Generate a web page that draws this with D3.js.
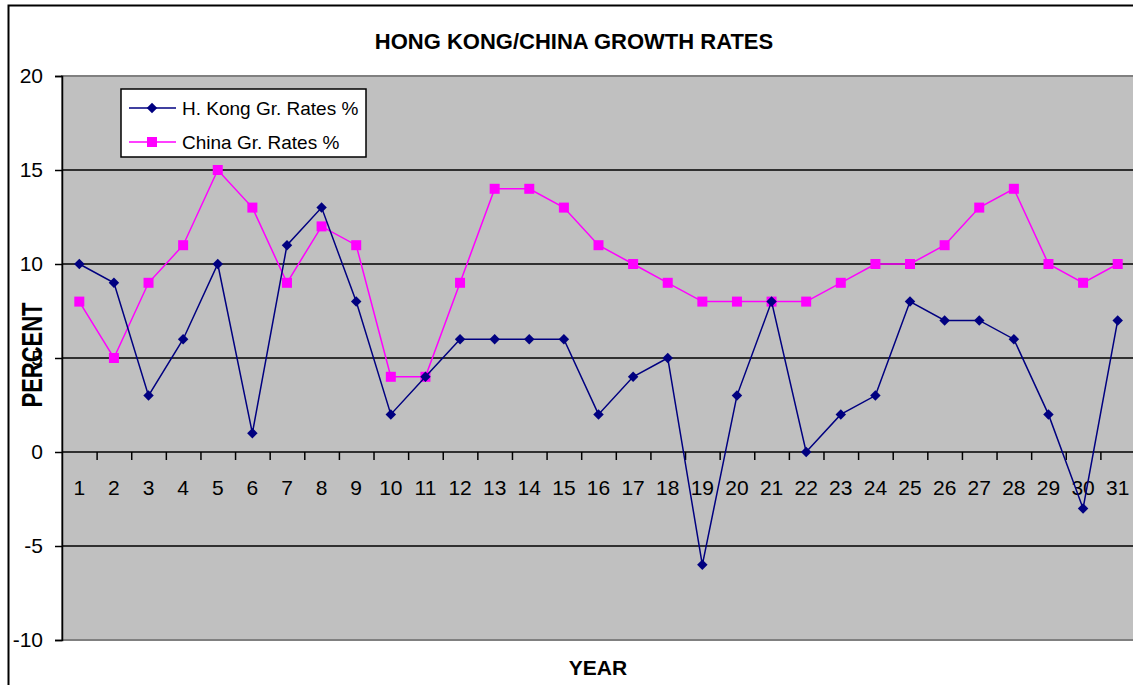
<!DOCTYPE html>
<html>
<head>
<meta charset="utf-8">
<script src="https://cdn.jsdelivr.net/npm/d3@7"></script>
<style>
  body { margin: 0; background: white; }
  svg { display: block; font-family: "Liberation Sans", Arial, sans-serif; }
</style>
</head>
<body>
<div id="chart"></div>
<script>
// data
var years = d3.range(1, 32).map(String);
var hkRates = [10, 9, 3, 6, 10, 1, 11, 13, 8, 2, 4, 6, 6, 6, 6, 2, 4, 5, -6, 3, 8, 0, 2, 3, 8, 7, 7, 6, 2, -3, 7];
var chinaRates = [8, 5, 9, 11, 15, 13, 9, 12, 11, 4, 4, 9, 14, 14, 13, 11, 10, 9, 8, 8, 8, 8, 9, 10, 10, 11, 13, 14, 10, 9, 10];
var yTicks = [-10, -5, 0, 5, 10, 15, 20];
var seriesNames = ["H. Kong Gr. Rates %", "China Gr. Rates %"];

var width = 1133, height = 685;
var plot = {left: 62, top: 76, right: 1135, bottom: 640};

var svg = d3.select("#chart").append("svg")
    .attr("width", width)
    .attr("height", height);

// outer chart frame
svg.append("rect")
    .attr("x", 8.5).attr("y", 5.5)
    .attr("width", 1140).attr("height", 700)
    .attr("fill", "white")
    .attr("stroke", "black")
    .attr("stroke-width", 2);

var x = d3.scaleBand().domain(years).range([plot.left, plot.right]);
var xEdge = d3.scaleLinear().domain([0, years.length]).range([plot.left, plot.right]);
var y = d3.scaleLinear().domain([-10, 20]).range([plot.bottom, plot.top]);

//plot background
svg.append("rect")
    .attr("x", plot.left).attr("y", plot.top)
    .attr("width", plot.right - plot.left).attr("height", plot.bottom - plot.top)
    .attr("fill", "#c0c0c0")
    .attr("stroke", "#808080")
    .attr("stroke-width", 2);

//gridlines
svg.append("g").selectAll("line")
    .data(yTicks.filter(d => d != 0 && d != -10 && d != 20))
    .join("line")
    .attr("x1", plot.left).attr("x2", plot.right)
    .attr("y1", d => y(d)).attr("y2", d => y(d))
    .attr("stroke", "black")
    .attr("stroke-width", 1.5);

//y axis
var yAxis = svg.append("g")
    .attr("transform", "translate(" + plot.left + ",0)")
    .call(d3.axisLeft(y).tickValues(yTicks).tickSize(7).tickPadding(12).tickFormat(d => String(d)))
    .attr("font-size", "21px")
    .attr("font-family", null);
yAxis.selectAll("line, path").attr("stroke", "black").attr("stroke-width", 1.5);
yAxis.selectAll("text").attr("fill", "black");

//x axis at zero: ticks between categories
var xTicks = svg.append("g")
    .attr("transform", "translate(0," + y(0) + ")")
    .call(d3.axisBottom(xEdge).tickValues(d3.range(1, years.length)).tickSize(8).tickFormat(""));
xTicks.selectAll("line, path").attr("stroke", "black").attr("stroke-width", 1.5);
xTicks.select("path").attr("d", "M" + plot.left + ",0H" + plot.right);

var xLabels = svg.append("g")
    .attr("transform", "translate(0," + y(0) + ")")
    .call(d3.axisBottom(x).tickSize(0).tickPadding(28))
    .attr("font-size", "21px")
    .attr("font-family", null);
xLabels.select("path").remove();
xLabels.selectAll("text").attr("fill", "black");

var line = d3.line()
    .x((d, i) => x(years[i]) + x.bandwidth() / 2)
    .y(d => y(d));

//China series
svg.append("path")
    .datum(chinaRates)
    .attr("fill", "none")
    .attr("stroke", "#ff00ff")
    .attr("stroke-width", 1.5)
    .attr("d", line);
svg.append("g").selectAll("rect")
    .data(chinaRates)
    .join("rect")
    .attr("x", (d, i) => x(years[i]) + x.bandwidth() / 2 - 5)
    .attr("y", d => y(d) - 5)
    .attr("width", 10).attr("height", 10)
    .attr("fill", "#ff00ff");

//HK series
var diamond = d3.symbol().type(d3.symbolDiamond2).size(70);
svg.append("path")
    .datum(hkRates)
    .attr("fill", "none")
    .attr("stroke", "#000080")
    .attr("stroke-width", 1.5)
    .attr("d", line);
svg.append("g").selectAll("path")
    .data(hkRates)
    .join("path")
    .attr("transform", (d, i) => "translate(" + (x(years[i]) + x.bandwidth() / 2) + "," + y(d) + ")")
    .attr("d", diamond)
    .attr("fill", "#000080");

//legend
var legend = svg.append("g").attr("transform", "translate(121,89)");
legend.append("rect")
    .attr("width", 245).attr("height", 68)
    .attr("fill", "white")
    .attr("stroke", "black")
    .attr("stroke-width", 1.5);
var colors = ["#000080", "#ff00ff"];
seriesNames.forEach(function(name, i) {
    var ly = 19 + i * 34;
    legend.append("line")
        .attr("x1", 8).attr("x2", 55)
        .attr("y1", ly).attr("y2", ly)
        .attr("stroke", colors[i])
        .attr("stroke-width", 1.5);
    if (i == 0) {
        legend.append("path")
            .attr("transform", "translate(31," + ly + ")")
            .attr("d", diamond)
            .attr("fill", colors[i]);
    } else {
        legend.append("rect")
            .attr("x", 26).attr("y", ly - 5)
            .attr("width", 10).attr("height", 10)
            .attr("fill", colors[i]);
    }
    legend.append("text")
        .attr("x", 61).attr("y", ly + 7)
        .attr("font-size", "19px")
        .text(name);
});

//titles
svg.append("text")
    .attr("x", 574).attr("y", 49)
    .attr("text-anchor", "middle")
    .attr("font-size", "22px")
    .attr("font-weight", "bold")
    .text("HONG KONG/CHINA GROWTH RATES");

svg.append("text")
    .attr("x", 598).attr("y", 675)
    .attr("text-anchor", "middle")
    .attr("font-size", "21px")
    .attr("font-weight", "bold")
    .text("YEAR");

svg.append("text")
    .attr("transform", "translate(41.5,355) rotate(-90) scale(1,1.3)")
    .attr("text-anchor", "middle")
    .attr("font-size", "22px")
    .attr("font-weight", "bold")
    .text("PERCENT");
</script>
</body>
</html>
